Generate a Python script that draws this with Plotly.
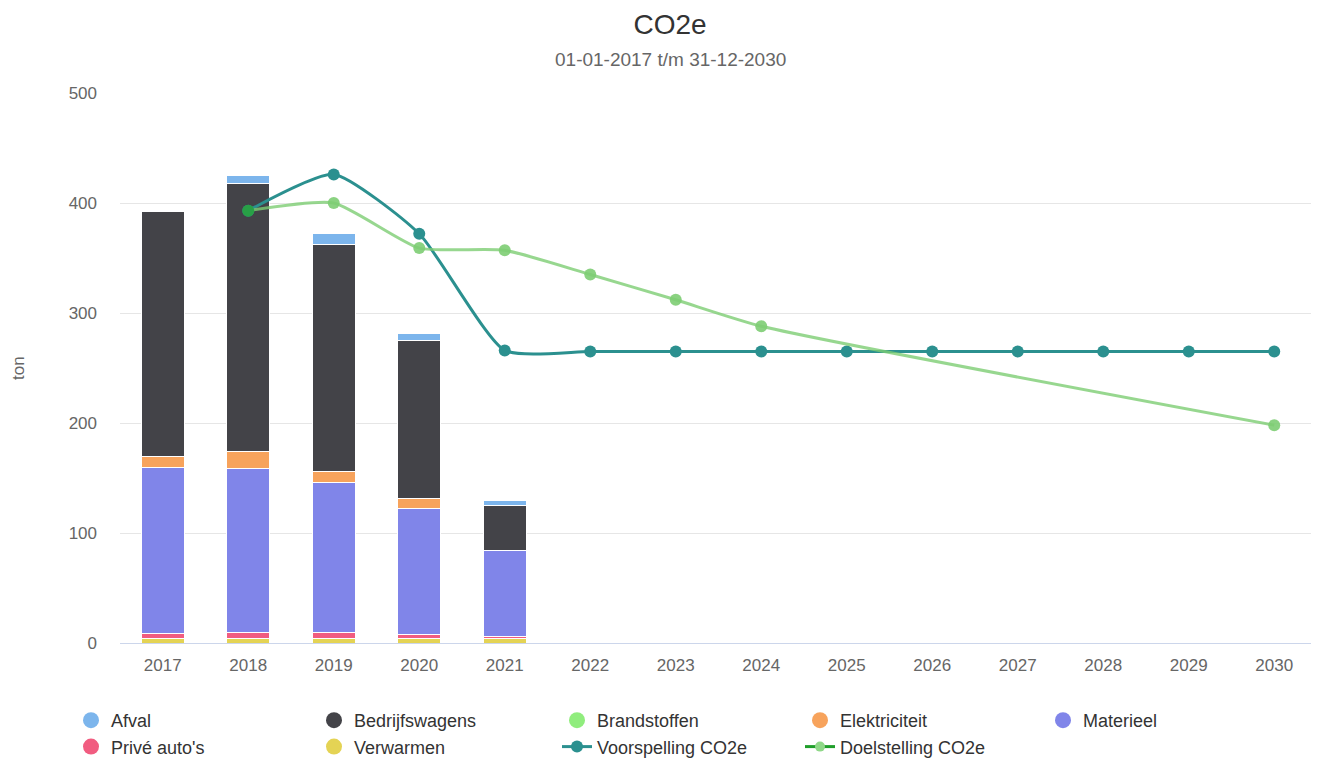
import plotly.graph_objects as go

# ---- data ----
years = ["2017", "2018", "2019", "2020", "2021", "2022", "2023",
         "2024", "2025", "2026", "2027", "2028", "2029", "2030"]
bar_years = ["2017", "2018", "2019", "2020", "2021"]

afval = [0, 7, 10, 6, 5]
bedrijfswagens = [222, 244, 206, 144, 41]
brandstoffen = [0, 0, 0, 0, 0]
elektriciteit = [10, 15, 10, 9, 0]
materieel = [151, 149, 136, 114, 78]
prive_autos = [5, 6, 6, 4, 2]
verwarmen = [4, 4, 4, 4, 4]

voorspelling = [None, 393, 426, 372, 266, 265, 265, 265, 265, 265, 265, 265, 265, 265]
doelstelling = [None, 393, 400, 359, 357, 335, 312, 288, None, None, None, None, None, 198]

series = [
    ("Afval", afval, "#7cb5ec"),
    ("Bedrijfswagens", bedrijfswagens, "#434348"),
    ("Brandstoffen", brandstoffen, "#90ed7d"),
    ("Elektriciteit", elektriciteit, "#f7a35c"),
    ("Materieel", materieel, "#8085e9"),
    ("Privé auto's", prive_autos, "#f15c80"),
    ("Verwarmen", verwarmen, "#e4d354"),
]

FONT = "Liberation Sans, Arial, Helvetica, sans-serif"
# page body has an 8px margin: work in figure coordinates
OFF = 8
W, H = 1319 - OFF, 760 - OFF
PLOT_L, PLOT_R, PLOT_T, PLOT_B = 120 - OFF, 1317 - OFF, 93 - OFF, 643 - OFF
PW, PH = PLOT_R - PLOT_L, PLOT_B - PLOT_T
TITLE_CX = 670 - OFF

fig = go.Figure()

# stacked bars: first series ends on top, so add in reverse order
for name, vals, color in reversed(series):
    fig.add_trace(go.Bar(
        x=bar_years, y=vals, name=name, legendgroup=name, showlegend=False,
        marker=dict(color=color, line=dict(color="white", width=1)),
    ))

# legend-only entries with round symbols
for i, (name, vals, color) in enumerate(series):
    fig.add_trace(go.Scatter(
        x=[None], y=[None], mode="markers", name=name, legendgroup=name,
        legendrank=i + 1, marker=dict(symbol="circle", size=18, color=color),
    ))

# Voorspelling line
fig.add_trace(go.Scatter(
    x=years, y=voorspelling, mode="lines+markers", name="Voorspelling CO2e",
    legendrank=8, line=dict(color="#2b908f", width=3, shape="spline", smoothing=0.55),
    marker=dict(color="#2b908f", size=12),
))

# Doelstelling line
doel_marker_colors = ["#28a046" if i == 1 else "rgba(125,205,115,0.9)" for i in range(len(years))]
fig.add_trace(go.Scatter(
    x=years, y=doelstelling, mode="lines+markers", name="Doelstelling CO2e",
    legendgroup="doel", showlegend=False, connectgaps=True,
    line=dict(color="rgba(125,205,115,0.8)", width=3, shape="spline", smoothing=0.55),
    marker=dict(color=doel_marker_colors, size=12),
))
fig.add_trace(go.Scatter(
    x=[None], y=[None], mode="lines+markers", name="Doelstelling CO2e",
    legendgroup="doel", legendrank=9,
    line=dict(color="#1f9e2a", width=3),
    marker=dict(color="#8fd888", size=10),
))

fig.update_layout(
    width=W, height=H,
    margin=dict(l=PLOT_L, r=W - PLOT_R, t=PLOT_T, b=H - PLOT_B, autoexpand=False),
    paper_bgcolor="white", plot_bgcolor="white",
    barmode="stack", bargap=0.5,
    font=dict(family=FONT, color="#666666"),
    title=dict(text="CO2e", x=TITLE_CX / W, xref="container", xanchor="center",
               y=1 - (24 - OFF) / H, yref="container", yanchor="middle",
               font=dict(size=28, color="#333333", family=FONT)),
    showlegend=True,
    legend=dict(orientation="h", x=(63 - PLOT_L) / PW, xanchor="left",
                y=(PLOT_B - 694) / PH, yanchor="top",
                font=dict(size=18, color="#333333", family=FONT),
                entrywidth=198, entrywidthmode="pixels",
                traceorder="normal", itemsizing="trace",
                bgcolor="rgba(0,0,0,0)"),
    annotations=[
        dict(text="01-01-2017 t/m 31-12-2030", x=(TITLE_CX - PLOT_L) / PW, xref="paper",
             xanchor="center", y=1 + (PLOT_T - (60 - OFF)) / PH, yref="paper",
             yanchor="middle", showarrow=False,
             font=dict(size=19, color="#666666", family=FONT)),
        dict(text="ton", x=(18 - OFF - PLOT_L) / PW, xref="paper", xanchor="center",
             y=0.5, yref="paper", yanchor="middle", textangle=-90, showarrow=False,
             font=dict(size=17, color="#666666", family=FONT)),
    ],
    hovermode="x",
)

fig.update_xaxes(
    type="category", categoryorder="array", categoryarray=years,
    range=[-0.5, len(years) - 0.5], autorange=False,
    showgrid=False, showline=True, linecolor="#ccd6eb", linewidth=1,
    ticks="", ticklabelstandoff=7,
    tickfont=dict(size=17, color="#666666", family=FONT),
)
fig.update_yaxes(
    range=[0, 500], dtick=100, showgrid=True, gridcolor="#e6e6e6", gridwidth=1,
    zeroline=False, showline=False, ticks="", ticklabelstandoff=22,
    tickfont=dict(size=17, color="#666666", family=FONT),
)

fig.write_html("out.html")
